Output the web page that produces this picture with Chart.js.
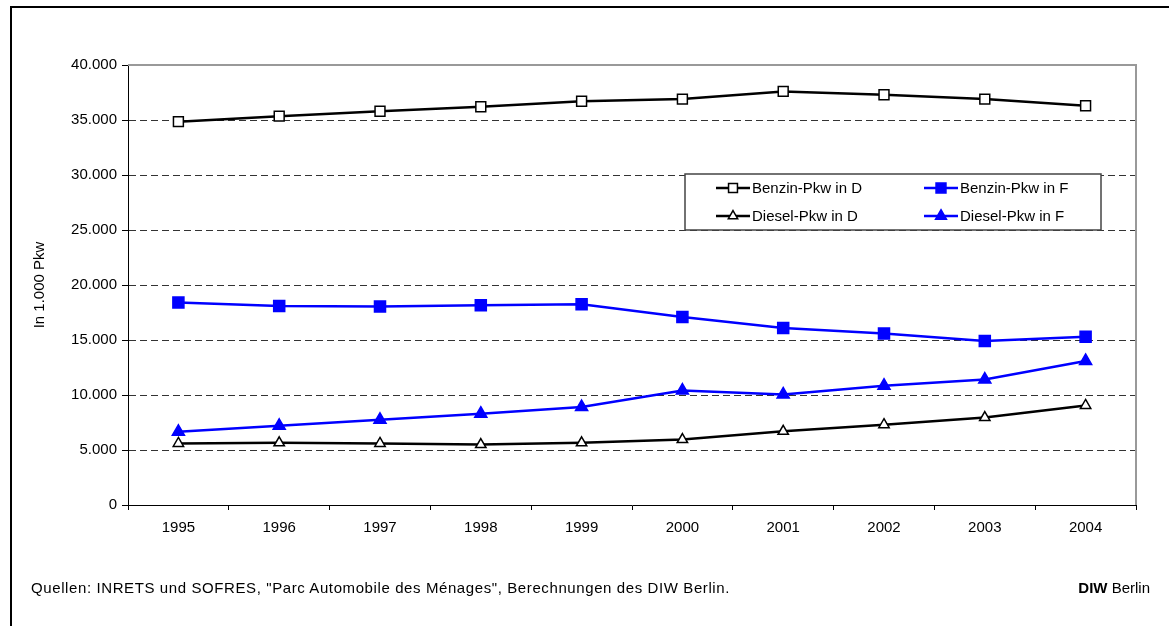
<!DOCTYPE html>
<html lang="de">
<head>
<meta charset="utf-8">
<title>Pkw-Bestand D / F</title>
<script src="https://cdn.jsdelivr.net/npm/chart.js@4.4.1/dist/chart.umd.min.js"></script>
<style>
  html, body { margin: 0; padding: 0; background: #fff; overflow: hidden; }
  body { width: 1169px; height: 626px; position: relative; font-family: "Liberation Sans", Arial, sans-serif; }
  .frame { position: absolute; left: 10px; top: 6px; width: 1200px; height: 700px; border: 2px solid #000; }
  .chart-wrap { position: absolute; left: 0; top: 0; width: 1169px; height: 626px; }
  .note { position: absolute; top: 579px; font-size: 15px; line-height: 18px; color: #000; white-space: nowrap; }
  .src { left: 31px; letter-spacing: 0.6px; }
  .diw { right: 19px; }
</style>
</head>
<body>
<div class="frame"></div>
<div class="chart-wrap"><canvas id="c"></canvas></div>
<div class="note src">Quellen: INRETS und SOFRES, "Parc Automobile des Ménages", Berechnungen des DIW Berlin.</div>
<div class="note diw"><b>DIW</b> Berlin</div>
<script>
// Werte in 1.000 Pkw
const years    = ['1995','1996','1997','1998','1999','2000','2001','2002','2003','2004'];
const benzinD  = [34850, 35350, 35800, 36200, 36700, 36900, 37600, 37300, 36900, 36300];
const benzinF  = [18400, 18100, 18050, 18150, 18250, 17100, 16100, 15600, 14900, 15300];
const dieselD  = [5600, 5650, 5600, 5500, 5650, 5950, 6700, 7300, 7950, 9050];
const dieselF  = [6650, 7200, 7750, 8300, 8900, 10400, 10050, 10850, 11400, 13100];
const yTicks   = [0, 5000, 10000, 15000, 20000, 25000, 30000, 35000, 40000];

const BLACK = '#000000', BLUE = '#0000ff';

Chart.defaults.font.family = '"Liberation Sans", Arial, sans-serif';
Chart.defaults.font.size = 15;
Chart.defaults.color = '#000';

function series(label, data, color, style, radius, fill) {
  return {
    label, data,
    borderColor: color, borderWidth: 2.5,
    pointStyle: style, pointRadius: radius, pointHoverRadius: radius,
    pointBackgroundColor: fill, pointBorderColor: color, pointBorderWidth: 1.5,
    tension: 0, fill: false,
  };
}

// grauer Rahmen oben/rechts um die Zeichenfläche
const plotFrame = {
  id: 'plotFrame',
  beforeDatasetsDraw(chart) {
    const { ctx, chartArea: a } = chart;
    ctx.save();
    ctx.strokeStyle = '#999';
    ctx.lineWidth = 2;
    ctx.beginPath();
    ctx.moveTo(a.left, a.top);
    ctx.lineTo(a.right, a.top);
    ctx.lineTo(a.right, a.bottom);
    ctx.stroke();
    ctx.restore();
  }
};

// Legende im Excel-Stil: Kasten mit 2x2 Einträgen
const boxLegend = {
  id: 'boxLegend',
  afterDraw(chart) {
    const ctx = chart.ctx;
    const bx = 685, by = 174, bw = 416, bh = 56;
    const cols = [716, 924], rows = [188, 216], len = 34;
    ctx.save();
    ctx.fillStyle = '#fff';
    ctx.fillRect(bx, by, bw, bh);
    ctx.strokeStyle = '#444';
    ctx.lineWidth = 1.5;
    ctx.strokeRect(bx, by, bw, bh);
    chart.data.datasets.forEach((ds, i) => {
      const x = cols[i % 2], y = rows[Math.floor(i / 2)];
      ctx.strokeStyle = ds.borderColor;
      ctx.lineWidth = ds.borderWidth;
      ctx.beginPath();
      ctx.moveTo(x, y);
      ctx.lineTo(x + len, y);
      ctx.stroke();
      ctx.fillStyle = ds.pointBackgroundColor;
      ctx.strokeStyle = ds.pointBorderColor;
      ctx.lineWidth = ds.pointBorderWidth;
      Chart.helpers.drawPoint(ctx, { pointStyle: ds.pointStyle, radius: ds.pointRadius * 0.9, borderWidth: ds.pointBorderWidth, rotation: 0 }, x + len / 2, y);
      ctx.fillStyle = '#000';
      ctx.font = '15px "Liberation Sans", Arial, sans-serif';
      ctx.textBaseline = 'middle';
      ctx.textAlign = 'left';
      ctx.fillText(ds.label, x + len + 2, y + 1);
    });
    ctx.restore();
  }
};

new Chart(document.getElementById('c').getContext('2d'), {
  type: 'line',
  data: {
    labels: years,
    datasets: [
      series('Benzin-Pkw in D', benzinD, BLACK, 'rect', 7, '#fff'),
      series('Benzin-Pkw in F', benzinF, BLUE, 'rect', 7.8, BLUE),
      series('Diesel-Pkw in D', dieselD, BLACK, 'triangle', 6, '#fff'),
      series('Diesel-Pkw in F', dieselF, BLUE, 'triangle', 7, BLUE),
    ],
  },
  options: {
    responsive: true, maintainAspectRatio: false, animation: false,
    layout: { padding: { left: 27, top: 65, right: 33, bottom: 81 } },
    plugins: { legend: { display: false }, tooltip: { enabled: false } },
    scales: {
      x: {
        offset: true,
        afterFit(s) { s.height = 40; },
        grid: { offset: true, drawOnChartArea: false, drawTicks: true, tickLength: 5, tickColor: '#000', tickWidth: 1 },
        border: { color: '#000', width: 1 },
        ticks: { padding: 9, maxRotation: 0, autoSkip: false },
      },
      y: {
        min: 0, max: 40000,
        afterFit(s) { s.width = 101; },
        afterBuildTicks(s) { s.ticks = yTicks.map(v => ({ value: v })); },
        grid: {
          color: c => (c.tick && (c.tick.value === 0 || c.tick.value === 40000)) ? 'rgba(0,0,0,0)' : '#333',
          lineWidth: 1, drawTicks: true, tickLength: 6, tickColor: '#000', tickBorderDash: [],
        },
        border: { color: '#000', width: 1, dash: [7, 4] },
        ticks: { padding: 5, callback: v => v === 0 ? '0' : v.toLocaleString('de-DE') },
        title: { display: true, text: 'In 1.000 Pkw', color: '#000', font: { size: 15 } },
      },
    },
  },
  plugins: [plotFrame, boxLegend],
});
</script>
</body>
</html>
